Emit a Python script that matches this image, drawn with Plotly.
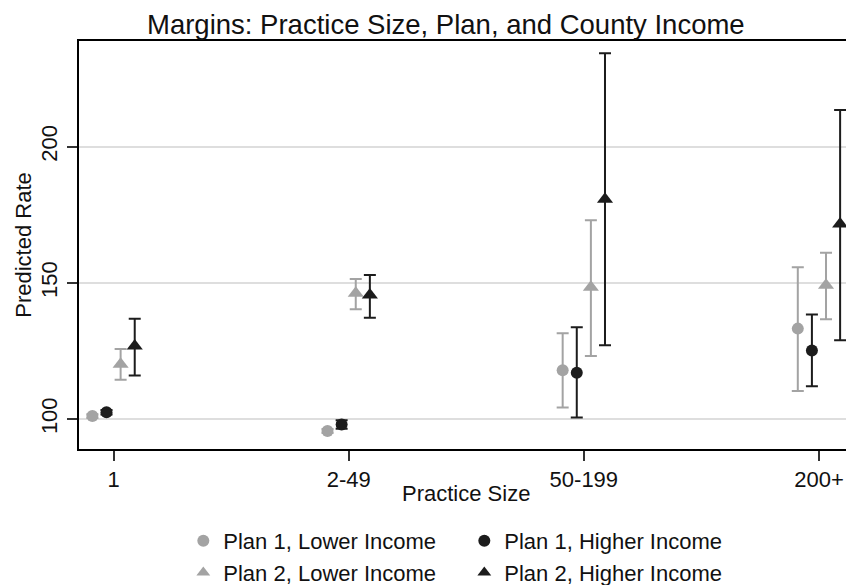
import plotly.graph_objects as go

categories = ["1", "2-49", "50-199", "200+"]
cat_pos = [1, 2, 3, 4]

series_names = ["Plan 1, Lower Income", "Plan 1, Higher Income",
                "Plan 2, Lower Income", "Plan 2, Higher Income"]

p1_low_y = [101.1, 95.6, 117.9, 133.2]
p1_low_lo = [100.4, 94.9, 104.2, 110.3]
p1_low_hi = [101.8, 96.3, 131.5, 155.7]

p1_high_y = [102.5, 98.0, 117.0, 125.2]
p1_high_lo = [101.7, 96.4, 100.6, 112.0]
p1_high_hi = [103.3, 99.6, 133.7, 138.4]

p2_low_y = [120.1, 146.2, 148.4, 149.1]
p2_low_lo = [114.4, 140.3, 123.1, 136.6]
p2_low_hi = [125.7, 151.4, 173.0, 161.1]

p2_high_y = [126.8, 145.5, 180.7, 171.6]
p2_high_lo = [116.0, 137.2, 127.1, 128.9]
p2_high_hi = [136.8, 152.9, 234.3, 213.5]

offsets = [-0.09, -0.03, 0.03, 0.09]
GREY = "#a3a3a3"
DARK = "#1c1c1c"
colors = [GREY, DARK, GREY, DARK]
symbols = ["circle", "circle", "triangle-up", "triangle-up"]
sizes = [12, 12, 14, 14]

data = [(p1_low_y, p1_low_lo, p1_low_hi),
        (p1_high_y, p1_high_lo, p1_high_hi),
        (p2_low_y, p2_low_lo, p2_low_hi),
        (p2_high_y, p2_high_lo, p2_high_hi)]

FONT = "Liberation Sans, Arial, sans-serif"

fig = go.Figure()
for i, (ys, lo, hi) in enumerate(data):
    xs = [p + offsets[i] for p in cat_pos]
    fig.add_trace(go.Scatter(
        x=xs, y=ys, mode="markers", name=series_names[i],
        marker=dict(symbol=symbols[i], size=sizes[i], color=colors[i]),
        error_y=dict(type="data", symmetric=False,
                     array=[h - y for h, y in zip(hi, ys)],
                     arrayminus=[y - l for y, l in zip(ys, lo)],
                     color=colors[i], thickness=2, width=6),
        cliponaxis=False,
    ))

fig.update_layout(
    width=846, height=585,
    margin=dict(l=79, r=0, t=41, b=136, autoexpand=False),
    paper_bgcolor="white", plot_bgcolor="white",
    font=dict(family=FONT, size=22, color="#111111"),
    title=dict(text="Margins: Practice Size, Plan, and County Income",
               x=0.527, xref="container", xanchor="center",
               y=0.959, yref="container", yanchor="middle",
               font=dict(size=27.5, family=FONT, color="#111111")),
    showlegend=True,
    legend=dict(orientation="h", x=0.136, xanchor="left", y=-0.174, yanchor="top",
                entrywidth=236, entrywidthmode="pixels",
                font=dict(size=22, family=FONT), itemsizing="constant",
                traceorder="normal", tracegroupgap=0),
    annotations=[dict(text="Practice Size", xref="paper", yref="paper",
                      x=0.505, y=-0.108, xanchor="center", yanchor="middle",
                      showarrow=False, font=dict(size=22, family=FONT, color="#111111"))],
)

fig.update_xaxes(
    range=[0.853, 4.115], tickmode="array", tickvals=cat_pos, ticktext=categories,
    showgrid=False, zeroline=False, showline=True, linecolor="black", linewidth=2,
    mirror=True, ticks="outside", ticklen=10, tickwidth=1.5, tickcolor="#333333",
    automargin=False, tickfont=dict(size=22),
)
fig.update_yaxes(
    range=[89.0, 238.8], tickmode="array", tickvals=[100, 150, 200],
    ticktext=["100", "150", "200"], tickangle=-90,
    showgrid=True, gridcolor="#dedede", gridwidth=2,
    zeroline=False, showline=True, linecolor="black", linewidth=2,
    ticks="outside", ticklen=10, tickwidth=1.5, tickcolor="#333333",
    title=dict(text="Predicted Rate", standoff=0, font=dict(size=22)), automargin=False,
    tickfont=dict(size=22), ticklabelstandoff=1,
)

fig.write_html("out.html", config={"displayModeBar": False},
               post_script="document.body.style.margin='0px';")
